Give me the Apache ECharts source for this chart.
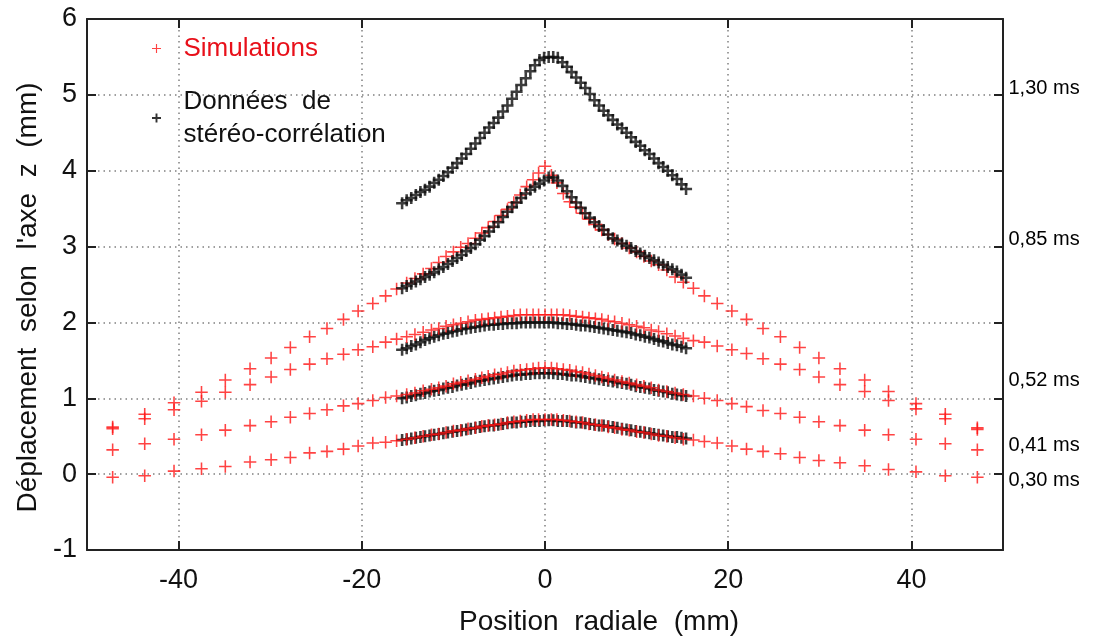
<!DOCTYPE html>
<html><head><meta charset="utf-8">
<script src="https://cdn.jsdelivr.net/npm/echarts@6/dist/echarts.min.js"></script>
<style>html,body{margin:0;padding:0;background:#fff}#c{width:1100px;height:642px}</style>
</head><body><div id="c"></div>
<script>
// Simulation mesh positions (mm)
const xSim = [-47.2,-43.7,-40.5,-37.5,-34.9,-32.2,-29.9,-27.8,-25.7,-23.8,-22.0,-20.4,-18.8,-17.4,-16.2,
  -15.1,-14.2,-13.3,-12.4,-11.6,-10.8,-10.0,-9.2,-8.4,-7.6,-6.9,-6.2,-5.5,-4.8,-4.1,-3.4,-2.7,-2.0,-1.3,-0.7,
  0,
  0.7,1.3,2.0,2.7,3.4,4.1,4.8,5.5,6.2,6.9,7.6,8.4,9.2,10.0,10.8,11.6,12.4,13.3,14.2,15.1,
  16.2,17.4,18.8,20.4,22.0,23.8,25.7,27.8,29.9,32.2,34.9,37.5,40.5,43.7,47.2];
const sim030 = [-0.04,-0.02,0.04,0.07,0.10,0.16,0.19,0.22,0.28,0.30,0.33,0.37,0.41,0.42,0.44,
  0.46,0.48,0.50,0.52,0.53,0.55,0.57,0.58,0.60,0.61,0.63,0.64,0.65,0.66,0.68,0.69,0.70,0.71,0.72,0.72,
  0.72,
  0.72,0.72,0.71,0.70,0.69,0.68,0.66,0.65,0.64,0.62,0.61,0.59,0.58,0.56,0.55,0.53,0.51,0.50,0.48,0.46,
  0.45,0.43,0.41,0.37,0.33,0.30,0.27,0.22,0.18,0.15,0.11,0.06,0.03,-0.02,-0.04];
const sim041 = [0.32,0.40,0.46,0.52,0.58,0.64,0.69,0.75,0.80,0.85,0.90,0.93,0.97,1.01,1.03,
  1.05,1.07,1.10,1.12,1.14,1.16,1.19,1.21,1.23,1.25,1.27,1.29,1.31,1.32,1.34,1.36,1.37,1.38,1.39,1.40,
  1.40,
  1.40,1.39,1.38,1.37,1.35,1.34,1.32,1.30,1.28,1.26,1.24,1.22,1.20,1.18,1.16,1.14,1.11,1.09,1.07,1.05,
  1.03,1.00,0.97,0.93,0.89,0.84,0.80,0.75,0.69,0.64,0.58,0.52,0.46,0.40,0.32];
const sim052 = [0.60,0.73,0.85,0.96,1.08,1.18,1.28,1.38,1.45,1.52,1.58,1.64,1.68,1.74,1.78,
  1.81,1.84,1.87,1.90,1.92,1.95,1.97,1.99,2.01,2.03,2.04,2.05,2.06,2.07,2.08,2.09,2.10,2.10,2.10,2.10,
  2.10,
  2.10,2.10,2.10,2.09,2.08,2.07,2.06,2.05,2.04,2.02,2.01,1.99,1.97,1.95,1.93,1.90,1.88,1.85,1.82,1.79,
  1.76,1.74,1.69,1.64,1.59,1.52,1.45,1.38,1.28,1.18,1.09,0.97,0.86,0.73,0.59];
const sim085 = [0.62,0.79,0.94,1.08,1.24,1.39,1.53,1.67,1.81,1.92,2.04,2.15,2.25,2.35,2.44,
  2.52,2.58,2.64,2.71,2.79,2.87,2.93,2.99,3.04,3.11,3.18,3.25,3.33,3.41,3.49,3.58,3.68,3.79,3.88,3.97,
  4.06,
  3.94,3.84,3.70,3.59,3.52,3.44,3.36,3.29,3.22,3.16,3.10,3.04,2.98,2.93,2.87,2.81,2.76,2.69,2.60,2.53,
  2.45,2.35,2.25,2.15,2.04,1.92,1.81,1.67,1.53,1.39,1.24,1.09,0.93,0.79,0.61];

// Stereo-correlation measurement positions (mm)
const xExp = [-15.6,-15.1,-14.6,-14.1,-13.6,-13.1,-12.6,-12.1,-11.6,-11.1,-10.6,-10.1,-9.6,-9.1,-8.6,-8.1,
  -7.6,-7.1,-6.6,-6.1,-5.6,-5.1,-4.6,-4.1,-3.6,-3.1,-2.6,-2.1,-1.6,-1.1,-0.6,-0.1,
  0.4,0.9,1.4,1.9,2.4,2.9,3.4,3.9,4.4,4.9,5.4,5.9,6.4,6.9,7.4,7.9,8.4,8.9,9.4,9.9,
  10.4,10.9,11.4,11.9,12.4,12.9,13.4,13.9,14.4,14.9,15.4];
const exp030 = [0.45,0.46,0.47,0.48,0.49,0.50,0.51,0.52,0.53,0.54,0.55,0.56,0.57,0.58,0.59,0.60,
  0.61,0.62,0.63,0.64,0.64,0.65,0.66,0.67,0.68,0.68,0.69,0.69,0.70,0.70,0.70,0.71,
  0.71,0.71,0.70,0.70,0.70,0.69,0.68,0.68,0.67,0.66,0.65,0.64,0.64,0.63,0.62,0.61,0.60,0.59,0.58,0.57,
  0.56,0.55,0.54,0.53,0.52,0.51,0.50,0.49,0.49,0.48,0.47];
const exp041 = [1.00,1.01,1.03,1.04,1.06,1.07,1.09,1.10,1.11,1.13,1.14,1.15,1.17,1.18,1.19,1.20,
  1.22,1.23,1.24,1.25,1.26,1.27,1.28,1.29,1.30,1.31,1.31,1.32,1.32,1.33,1.33,1.33,
  1.33,1.33,1.32,1.32,1.31,1.30,1.30,1.29,1.28,1.27,1.26,1.25,1.24,1.23,1.22,1.21,1.20,1.19,1.18,1.16,
  1.15,1.14,1.13,1.11,1.10,1.09,1.08,1.06,1.05,1.04,1.03];
const exp052 = [1.64,1.66,1.69,1.71,1.74,1.77,1.79,1.81,1.83,1.85,1.86,1.88,1.89,1.91,1.92,1.93,
  1.94,1.95,1.96,1.97,1.97,1.98,1.98,1.99,1.99,1.99,2.00,2.00,2.00,2.00,2.00,2.00,
  2.00,2.00,1.99,1.99,1.98,1.98,1.97,1.96,1.96,1.95,1.94,1.93,1.92,1.91,1.90,1.89,1.88,1.87,1.86,1.84,
  1.83,1.81,1.80,1.78,1.76,1.75,1.73,1.71,1.70,1.68,1.66];
const exp085 = [2.45,2.48,2.51,2.54,2.57,2.60,2.63,2.66,2.70,2.73,2.77,2.81,2.85,2.89,2.94,2.98,
  3.03,3.09,3.14,3.20,3.26,3.32,3.39,3.46,3.52,3.58,3.64,3.70,3.75,3.79,3.83,3.87,
  3.91,3.91,3.87,3.80,3.73,3.65,3.58,3.51,3.44,3.38,3.32,3.27,3.22,3.16,3.11,3.08,3.04,3.01,2.98,2.94,
  2.91,2.88,2.85,2.82,2.79,2.76,2.73,2.70,2.67,2.63,2.59];
const exp130 = [3.57,3.61,3.64,3.68,3.72,3.75,3.79,3.84,3.88,3.93,3.98,4.04,4.10,4.16,4.22,4.29,
  4.36,4.43,4.50,4.57,4.63,4.70,4.78,4.86,4.95,5.04,5.13,5.22,5.31,5.39,5.46,5.49,
  5.50,5.50,5.49,5.43,5.37,5.30,5.23,5.16,5.09,5.01,4.93,4.86,4.79,4.73,4.67,4.61,4.56,4.50,4.44,4.38,
  4.33,4.27,4.22,4.16,4.10,4.05,4.00,3.94,3.89,3.82,3.76];

// Time annotations on the right
const timeLabels = ['1,30 ms','0,85 ms','0,52 ms','0,41 ms','0,30 ms'];
const timeLabelY = [5.09, 3.09, 1.23, 0.38, -0.08];

const xTicks = [-40, -20, 0, 20, 40];

const SIM_NAME = 'Simulations';
const EXP_NAME = 'Données  de\nstéréo-corrélation';

const plusThin = 'path://M7,0H9V7H16V9H9V16H7V9H0V7H7Z';
const plusBold = 'path://M6.3,0H9.7V6.3H16V9.7H9.7V16H6.3V9.7H0V6.3H6.3Z';
const RED = '#ff1414';
const BLK = '#0d0d0d';
const FONT = 'Liberation Sans';

function pairs(xs, ys) { return xs.map((x, i) => [x, ys[i]]); }

function simSeries(ys) {
  return { type: 'scatter', name: SIM_NAME, data: pairs(xSim, ys), symbol: plusThin, symbolSize: 12.5,
    itemStyle: { color: RED }, silent: true, animation: false };
}
function expSeries(ys) {
  return { type: 'scatter', name: EXP_NAME, data: pairs(xExp, ys), symbol: plusBold, symbolSize: 12,
    itemStyle: { color: BLK }, silent: true, animation: false };
}

const gridLine = { show: true, lineStyle: { color: '#808080', width: 1.5, type: [1.5, 4] } };
const axisLine = { show: true, onZero: false, lineStyle: { color: '#222', width: 2 } };
const tickStyle = { show: true, inside: true, length: 9, lineStyle: { color: '#222', width: 2 } };

const chart = echarts.init(document.getElementById('c'), null, { renderer: 'canvas' });
chart.setOption({
  animation: false,
  backgroundColor: '#fff',
  grid: { left: 87, right: 97, top: 19, bottom: 92, containLabel: false },
  legend: {
    orient: 'vertical', left: 147, top: 27, itemWidth: 44, itemHeight: 9, itemGap: 20,
    selectedMode: false,
    data: [
      { name: SIM_NAME, icon: plusThin, itemStyle: { color: RED }, textStyle: { color: '#e8101a' } },
      { name: EXP_NAME, icon: plusBold, itemStyle: { color: '#000' }, textStyle: { color: '#111' } }
    ],
    textStyle: { fontFamily: FONT, fontSize: 26, lineHeight: 33 }
  },
  xAxis: [
    { type: 'value', min: -50, max: 50, position: 'bottom',
      name: 'Position  radiale  (mm)', nameLocation: 'middle', nameGap: 58,
      nameTextStyle: { fontFamily: FONT, fontSize: 28, color: '#111', padding: [0, 0, 0, 108] },
      axisLine: axisLine,
      axisTick: Object.assign({ customValues: xTicks }, tickStyle),
      axisLabel: { customValues: xTicks, fontFamily: FONT, fontSize: 27, color: '#111', margin: 17 },
      splitLine: gridLine },
    { type: 'value', min: -50, max: 50, position: 'top',
      axisLine: axisLine,
      axisTick: Object.assign({ customValues: xTicks }, tickStyle),
      axisLabel: { show: false }, splitLine: { show: false } }
  ],
  yAxis: [
    { type: 'value', min: -1, max: 6, interval: 1, position: 'left',
      name: "Déplacement  selon  l'axe  z  (mm)", nameLocation: 'middle', nameGap: 43, nameRotate: 90,
      nameTextStyle: { fontFamily: FONT, fontSize: 28, color: '#111', padding: [0, 26, 0, 0] },
      axisLine: axisLine, axisTick: tickStyle,
      axisLabel: { fontFamily: FONT, fontSize: 27, color: '#111', margin: 10 },
      splitLine: gridLine },
    { type: 'value', min: -1, max: 6, interval: 1, position: 'right',
      axisLine: axisLine, axisTick: tickStyle,
      axisLabel: { show: false }, splitLine: { show: false } }
  ],
  series: [
    simSeries(sim085),
    expSeries(exp130), expSeries(exp085), expSeries(exp052), expSeries(exp041), expSeries(exp030),
    simSeries(sim052), simSeries(sim041), simSeries(sim030),
    { type: 'scatter', name: 'labels', silent: true, symbolSize: 1,
      itemStyle: { color: 'rgba(0,0,0,0)' },
      data: timeLabelY.map((y, i) => ({ value: [50, y], name: timeLabels[i] })),
      label: { show: true, position: 'right', distance: 5, formatter: p => p.name,
        fontFamily: FONT, fontSize: 20, color: '#000', opacity: 1 } }
  ]
});
</script></body></html>
